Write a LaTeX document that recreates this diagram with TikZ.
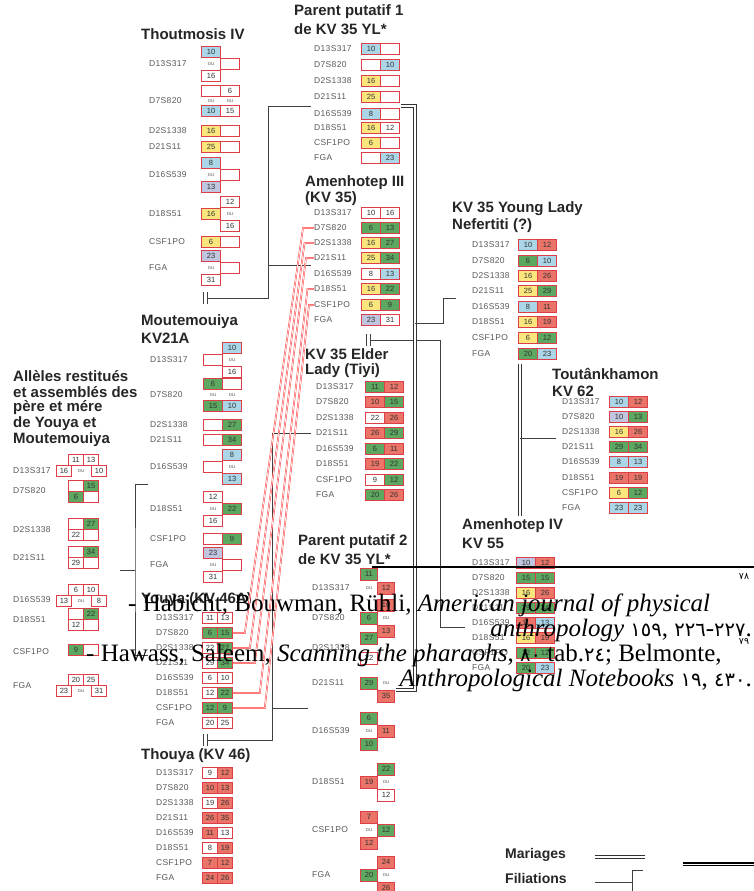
\documentclass[tikz,border=0pt]{standalone}
\usepackage{fontspec}
\setmainfont{Liberation Serif}
\newfontfamily\sansf{Liberation Sans}
\newfontfamily\lblf{Liberation Sans}[LetterSpace=4.0]
\newfontfamily\arnum{DejaVu Sans}[Scale=0.78]
\usetikzlibrary{calc}
\definecolor{cellred}{RGB}{222,62,72}
\definecolor{cgreen}{RGB}{92,168,96}
\definecolor{cred}{RGB}{234,116,104}
\definecolor{cyel}{RGB}{250,230,125}
\definecolor{cblue}{RGB}{170,214,232}
\definecolor{clav}{RGB}{192,198,224}

% one locus: label + two alleles
\newcommand{\locus}[7]{%
  \node[lbl] (#1) at (\lx,#2) {#3};
  \node[cell,fill=#4] (#1a) at (\ca,#2) {#5};
  \node[cell,fill=#6] (#1b) at (\cb,#2) {#7};}
% left allele uncertain (top / ou / bottom)
\newcommand{\altL}[9]{%
  \node[lbl] (#1) at (\lx,#2) {#3};
  \node[cell,fill=#4] (#1a) at (\ca,#2-\dy) {#5};
  \node[ou] (#1o) at (\ca,#2) {ou};
  \node[cell,fill=#6] (#1c) at (\ca,#2+\dy) {#7};
  \node[cell,fill=#8] (#1b) at (\cb,#2) {#9};}
% right allele uncertain
\newcommand{\altR}[9]{%
  \node[lbl] (#1) at (\lx,#2) {#3};
  \node[cell,fill=#4] (#1b) at (\cb,#2-\dy) {#5};
  \node[ou] (#1o) at (\cb,#2) {ou};
  \node[cell,fill=#6] (#1c) at (\cb,#2+\dy) {#7};
  \node[cell,fill=#8] (#1a) at (\ca,#2) {#9};}
% marriage sign ||
\newcommand{\marr}[3]{%
  \node[msign] (#1) at (#2,#3) {};
  \draw[link,line width=0.7pt] (#1.north west) -- (#1.south west) (#1.north east) -- (#1.south east);}
\newcommand{\ad}[1]{{\arnum #1}}

\begin{document}
\begin{tikzpicture}[x=1pt,y=-1pt,
  lbl/.style={anchor=west, inner sep=0pt, font=\lblf\fontsize{8.5}{9}\selectfont, text=black!65},
  cell/.style={draw=cellred, line width=0.6pt, minimum width=\cw, minimum height=\ch,
    inner sep=0pt, font=\sansf\fontsize{7.5}{8}\selectfont, text=black!80},
  ou/.style={inner sep=0pt, font=\sansf\fontsize{5.5}{6}\selectfont, text=black!60},
  ttl/.style={anchor=west, inner sep=0pt, font=\sansf\bfseries\fontsize{15}{17}\selectfont, text=black!85},
  leg/.style={anchor=west, inner sep=0pt, font=\sansf\bfseries\fontsize{14}{16}\selectfont, text=black!85},
  link/.style={draw=black!75, line width=0.8pt},
  wed/.style={draw=black!80, line width=0.9pt, double=white, double distance=1.6pt},
  rl/.style={draw=red!80, line width=0.45pt, double=white, double distance=0.7pt},
  msign/.style={minimum width=3.5pt, minimum height=11pt, inner sep=0pt},
  note/.style={inner sep=0pt, font=\fontsize{25}{27}\selectfont}
]
\useasboundingbox (0,0) rectangle (754,891);
\fill[white] (0,0) rectangle (754,891);

% Thoutmosis IV
\def\lx{149}\def\ca{211}\def\cb{230}\def\cw{19pt}\def\ch{11pt}\def\dy{12}
\node[ttl] (t4t) at (141,34) {Thoutmosis IV};
\altL{t4d13}{64}{D13S317}{cblue}{10}{white}{16}{white}{}
\node[lbl] (t4d7) at (\lx,101) {D7S820};
\node[cell,fill=white] (t4d7a) at (\ca,91) {};
\node[cell,fill=white] (t4d7b) at (\cb,91) {6};
\node[ou] (t4d7o) at (\ca,101) {ou};
\node[ou] (t4d7p) at (\cb,101) {ou};
\node[cell,fill=cblue] (t4d7c) at (\ca,111) {10};
\node[cell,fill=white] (t4d7d) at (\cb,111) {15};
\locus{t4d2}{131}{D2S1338}{cyel}{16}{white}{}
\locus{t4d21}{147}{D21S11}{cyel}{25}{white}{}
\altL{t4d16}{175}{D16S539}{cblue}{8}{clav}{13}{white}{}
\altR{t4d18}{214}{D18S51}{white}{12}{white}{16}{cyel}{16}
\locus{t4csf}{242}{CSF1PO}{cyel}{6}{white}{}
\altL{t4fga}{268}{FGA}{clav}{23}{white}{31}{white}{}
\marr{t4m}{205}{298}

% Moutemouiya
\def\lx{150}\def\ca{213}\def\cb{232}
\node[ttl] (mtt) at (141,322) {Moutemouiya};
\node[ttl] (mtt2) at (141,338) {KV21A};
\altR{mtd13}{360}{D13S317}{cblue}{10}{white}{16}{white}{}
\node[lbl] (mtd7) at (\lx,395) {D7S820};
\node[cell,fill=cgreen] (mtd7a) at (\ca,384) {6};
\node[cell,fill=white] (mtd7b) at (\cb,384) {};
\node[ou] (mtd7o) at (\ca,395) {ou};
\node[ou] (mtd7p) at (\cb,395) {ou};
\node[cell,fill=cgreen] (mtd7c) at (\ca,406) {15};
\node[cell,fill=cblue] (mtd7d) at (\cb,406) {10};
\locus{mtd2}{425}{D2S1338}{white}{}{cgreen}{27}
\locus{mtd21}{440}{D21S11}{white}{}{cgreen}{34}
\altR{mtd16}{467}{D16S539}{cblue}{8}{cblue}{13}{white}{}
\altL{mtd18}{509}{D18S51}{white}{12}{white}{16}{cgreen}{22}
\locus{mtcsf}{539}{CSF1PO}{white}{}{cgreen}{9}
\altL{mtfga}{565}{FGA}{clav}{23}{white}{31}{white}{}

% Youya
\def\lx{156}\def\ca{210}\def\cb{225}\def\cw{15pt}
\node[ttl] (yyt) at (141,600) {Youya (KV 46A)};
\locus{yyd13}{618}{D13S317}{white}{11}{white}{13}
\locus{yyd7}{633}{D7S820}{cgreen}{6}{cgreen}{15}
\locus{yyd2}{648}{D2S1338}{white}{22}{cgreen}{27}
\locus{yyd21}{663}{D21S11}{white}{29}{cgreen}{34}
\locus{yyd16}{678}{D16S539}{white}{6}{white}{10}
\locus{yyd18}{693}{D18S51}{white}{12}{cgreen}{22}
\locus{yycsf}{708}{CSF1PO}{cgreen}{12}{cgreen}{9}
\locus{yyfga}{723}{FGA}{white}{20}{white}{25}
\marr{yym}{205}{740}

% Thouya
\node[ttl] (tht) at (141,756) {Thouya (KV 46)};
\locus{thd13}{773}{D13S317}{white}{9}{cred}{12}
\locus{thd7}{788}{D7S820}{cred}{10}{cred}{13}
\locus{thd2}{803}{D2S1338}{white}{19}{cred}{26}
\locus{thd21}{818}{D21S11}{cred}{26}{cred}{35}
\locus{thd16}{833}{D16S539}{cred}{11}{white}{13}
\locus{thd18}{848}{D18S51}{white}{8}{cred}{19}
\locus{thcsf}{863}{CSF1PO}{cred}{7}{cred}{12}
\locus{thfga}{878}{FGA}{cred}{24}{cred}{26}

% Parent putatif 1
\def\lx{314}\def\ca{371}\def\cb{390}\def\cw{19pt}
\node[ttl] (pp1t) at (294,12) {Parent putatif 1};
\node[ttl] (pp1t2) at (294,29) {de KV 35 YL*};
\locus{pp1d13}{49}{D13S317}{cblue}{10}{white}{}
\locus{pp1d7}{65}{D7S820}{white}{}{cblue}{10}
\locus{pp1d2}{81}{D2S1338}{cyel}{16}{white}{}
\locus{pp1d21}{97}{D21S11}{cyel}{25}{white}{}
\locus{pp1d16}{114}{D16S539}{cblue}{8}{white}{}
\locus{pp1d18}{128}{D18S51}{cyel}{16}{white}{12}
\locus{pp1csf}{143}{CSF1PO}{cyel}{6}{white}{}
\locus{pp1fga}{158}{FGA}{white}{}{cblue}{23}

% Amenhotep III
\node[ttl] (a3t) at (305,183) {Amenhotep III};
\node[ttl] (a3t2) at (305,199) {(KV 35)};
\locus{a3d13}{213}{D13S317}{white}{10}{white}{16}
\locus{a3d7}{228}{D7S820}{cgreen}{6}{cgreen}{13}
\locus{a3d2}{243}{D2S1338}{cyel}{16}{cgreen}{27}
\locus{a3d21}{258}{D21S11}{cyel}{25}{cgreen}{34}
\locus{a3d16}{274}{D16S539}{white}{8}{cblue}{13}
\locus{a3d18}{289}{D18S51}{cyel}{16}{cgreen}{22}
\locus{a3csf}{305}{CSF1PO}{cyel}{6}{cgreen}{9}
\locus{a3fga}{320}{FGA}{clav}{23}{white}{31}
\marr{a3m}{368}{340}

% KV 35 Elder Lady
\def\lx{316}\def\ca{375}\def\cb{394}
\node[ttl] (elt) at (305,354) {KV 35 Elder};
\node[ttl] (elt2) at (305,371) {Lady (Tiyi)};
\locus{eld13}{387}{D13S317}{cgreen}{11}{cred}{12}
\locus{eld7}{402}{D7S820}{cred}{10}{cgreen}{15}
\locus{eld2}{418}{D2S1338}{white}{22}{cred}{26}
\locus{eld21}{433}{D21S11}{cred}{26}{cgreen}{29}
\locus{eld16}{449}{D16S539}{cgreen}{6}{cred}{11}
\locus{eld18}{464}{D18S51}{cred}{19}{cgreen}{22}
\locus{elcsf}{480}{CSF1PO}{white}{9}{cgreen}{12}
\locus{elfga}{495}{FGA}{cgreen}{20}{cred}{26}

% Parent putatif 2
\def\lx{312}\def\ca{369}\def\cb{386}\def\cw{17pt}\def\ch{12pt}\def\dy{13}
\node[ttl] (pp2t) at (298,542) {Parent putatif 2};
\node[ttl] (pp2t2) at (298,559) {de KV 35 YL*};
\node[lbl] (pp2d13) at (\lx,588) {D13S317};
\node[cell,fill=cgreen] (pp2d13a) at (\ca,574) {11};
\node[ou] (pp2d13o) at (\ca,588) {ou};
\node[cell,fill=cred] (pp2d13b) at (\cb,588) {12};
\altR{pp2d7}{618}{D7S820}{cred}{10}{cred}{13}{cgreen}{6}
\node[lbl] (pp2d2) at (\lx,648) {D2S1338};
\node[cell,fill=cgreen] (pp2d2a) at (\ca,638) {27};
\node[cell,fill=white] (pp2d2c) at (\ca,658) {22};
\node[lbl] (pp2d21) at (\lx,683) {D21S11};
\node[cell,fill=cgreen] (pp2d21a) at (\ca,683) {29};
\node[ou] (pp2d21o) at (\cb,683) {ou};
\node[cell,fill=cred] (pp2d21c) at (\cb,696) {35};
\altL{pp2d16}{731}{D16S539}{cgreen}{6}{cgreen}{10}{cred}{11}
\altR{pp2d18}{782}{D18S51}{cgreen}{22}{white}{12}{cred}{19}
\altL{pp2csf}{830}{CSF1PO}{cred}{7}{cred}{12}{cgreen}{12}
\altR{pp2fga}{875}{FGA}{cred}{24}{cred}{26}{cgreen}{20}

% KV 35 Young Lady
\def\lx{472}\def\ca{528}\def\cb{547}\def\cw{19pt}\def\ch{11pt}
\node[ttl] (ylt) at (452,209) {KV 35 Young Lady};
\node[ttl] (ylt2) at (452,226) {Nefertiti (?)};
\locus{yld13}{245}{D13S317}{cblue}{10}{cred}{12}
\locus{yld7}{261}{D7S820}{cgreen}{6}{cblue}{10}
\locus{yld2}{276}{D2S1338}{cyel}{16}{cred}{26}
\locus{yld21}{291}{D21S11}{cyel}{25}{cgreen}{29}
\locus{yld16}{307}{D16S539}{cblue}{8}{cred}{11}
\locus{yld18}{322}{D18S51}{cyel}{16}{cred}{19}
\locus{ylcsf}{338}{CSF1PO}{cyel}{6}{cgreen}{12}
\locus{ylfga}{354}{FGA}{cgreen}{20}{cblue}{23}

% Toutankhamon
\def\lx{562}\def\ca{619}\def\cb{638}
\node[ttl] (tkt) at (552,374) {Toutânkhamon};
\node[ttl] (tkt2) at (552,391) {KV 62};
\locus{tkd13}{402}{D13S317}{cblue}{10}{cred}{12}
\locus{tkd7}{417}{D7S820}{clav}{10}{cgreen}{13}
\locus{tkd2}{432}{D2S1338}{cyel}{16}{cred}{26}
\locus{tkd21}{447}{D21S11}{cgreen}{29}{cgreen}{34}
\locus{tkd16}{462}{D16S539}{cblue}{8}{cblue}{13}
\locus{tkd18}{478}{D18S51}{cred}{19}{cred}{19}
\locus{tkcsf}{493}{CSF1PO}{cyel}{6}{cgreen}{12}
\locus{tkfga}{508}{FGA}{cblue}{23}{cblue}{23}

% Amenhotep IV
\def\lx{472}\def\ca{526}\def\cb{545}
\node[ttl] (a4t) at (462,526) {Amenhotep IV};
\node[ttl] (a4t2) at (462,543) {KV 55};
\locus{a4d13}{563}{D13S317}{clav}{10}{cred}{12}
\locus{a4d7}{578}{D7S820}{cgreen}{15}{cgreen}{15}
\locus{a4d2}{593}{D2S1338}{cyel}{16}{cred}{26}
\locus{a4d21}{608}{D21S11}{cgreen}{29}{cgreen}{34}
\locus{a4d16}{623}{D16S539}{cred}{11}{cblue}{13}
\locus{a4d18}{638}{D18S51}{cyel}{16}{cred}{19}
\locus{a4csf}{653}{CSF1PO}{cgreen}{12}{cgreen}{12}
\locus{a4fga}{668}{FGA}{cgreen}{20}{cblue}{23}

% Alleles restitues
\def\cw{15pt}\def\ch{11pt}
\node[ttl] (alt1) at (13,376) {Allèles restitués};
\node[ttl] (alt2) at (13,392) {et assemblés des};
\node[ttl] (alt3) at (13,408) {père et mére};
\node[ttl] (alt4) at (13,424) {de Youya et};
\node[ttl] (alt5) at (13,440) {Moutemouiya};
\node[lbl] (ald13) at (13,471) {D13S317};
\node[cell,fill=white] (ald13a) at (76,460) {11};
\node[cell,fill=white] (ald13b) at (91,460) {13};
\node[cell,fill=white] (ald13c) at (64,471) {16};
\node[ou] (ald13o) at (81,471) {ou};
\node[cell,fill=white] (ald13d) at (99,471) {10};
\node[lbl] (ald7) at (13,491) {D7S820};
\node[cell,fill=white] (ald7a) at (76,486) {};
\node[cell,fill=cgreen] (ald7b) at (91,486) {15};
\node[cell,fill=cgreen] (ald7c) at (76,497) {6};
\node[cell,fill=white] (ald7d) at (91,497) {};
\node[lbl] (ald2) at (13,530) {D2S1338};
\node[cell,fill=white] (ald2a) at (76,524) {};
\node[cell,fill=cgreen] (ald2b) at (91,524) {27};
\node[cell,fill=white] (ald2c) at (76,535) {22};
\node[cell,fill=white] (ald2d) at (91,535) {};
\node[lbl] (ald21) at (13,558) {D21S11};
\node[cell,fill=white] (ald21a) at (76,552) {};
\node[cell,fill=cgreen] (ald21b) at (91,552) {34};
\node[cell,fill=white] (ald21c) at (76,563) {29};
\node[cell,fill=white] (ald21d) at (91,563) {};
\node[lbl] (ald16) at (13,600) {D16S539};
\node[cell,fill=white] (ald16a) at (76,590) {6};
\node[cell,fill=white] (ald16b) at (91,590) {10};
\node[cell,fill=white] (ald16c) at (64,601) {13};
\node[ou] (ald16o) at (81,601) {ou};
\node[cell,fill=white] (ald16d) at (99,601) {8};
\node[lbl] (ald18) at (13,620) {D18S51};
\node[cell,fill=white] (ald18a) at (76,614) {};
\node[cell,fill=cgreen] (ald18b) at (91,614) {22};
\node[cell,fill=white] (ald18c) at (76,625) {12};
\node[cell,fill=white] (ald18d) at (91,625) {};
\node[lbl] (alcsf) at (13,652) {CSF1PO};
\node[cell,fill=cgreen] (alcsfa) at (76,650) {9};
\node[cell,fill=white] (alcsfb) at (91,650) {};
\node[lbl] (alfga) at (13,686) {FGA};
\node[cell,fill=white] (alfgaa) at (76,680) {20};
\node[cell,fill=white] (alfgab) at (91,680) {25};
\node[cell,fill=white] (alfgac) at (64,691) {23};
\node[ou] (alfgao) at (81,691) {ou};
\node[cell,fill=white] (alfgad) at (99,691) {31};

% filiations
\coordinate (t4j) at (268,106);
\coordinate (pp1in) at (311,106);
\coordinate (a3in) at (311,265);
\draw[link] (t4m.east) -| (t4j) -- (pp1in);
\draw[link] (t4j |- a3in) -- (a3in);
\coordinate (yyj) at (272,433);
\coordinate (elin) at (311,433);
\coordinate (pp2in) at (308,708);
\draw[link] (yym.east) -| (yyj) -- (elin);
\draw[link] (yyj |- pp2in) -- (pp2in);
\coordinate (alj) at (135,570);
\coordinate (alb1) at (148,484);
\coordinate (alb2) at (148,655);
\coordinate (alin) at (120,570);
\draw[link] (alb1) -| (alj) |- (alb2);
\draw[link] (alj) -- (alin);
\coordinate (a4j) at (440,627);
\coordinate (a4in) at (465,627);
\draw[link] (a3m.east) -| (a4j) -- (a4in);

% mariages
\coordinate (w1) at (401,106);
\coordinate (wx) at (415,400);
\coordinate (w2) at (396,690);
\draw[wed] (w1) -| (wx) |- (w2);
\coordinate (ylj) at (443,323);
\coordinate (ylin) at (456,298);
\draw[link] (wx |- ylj) -- (ylj) |- (ylin);
\coordinate (ylw) at (520,364);
\coordinate (a4w) at (520,516);
\draw[wed] (ylw) -- (a4w);
\coordinate (tkin) at (556,438);
\draw[link] (ylw |- tkin) -- (tkin);

% shared alleles Youya -> Amenhotep III
\foreach \loc/\k in {d7/0,d2/1,d21/2,d18/3,csf/4}
  \draw[rl] (yy\loc b.east) -- ++(12+5*\k,0) -- ($(a3\loc.west)+(-11+1.5*\k,0)$) -- (a3\loc.west);

% legend
\node[leg] (lgm) at (505,855) {Mariages};
\node[leg] (lgf) at (505,878) {Filiations};
\coordinate (lm1) at (595,857);
\coordinate (lm2) at (645,857);
\draw[wed] (lm1) -- (lm2);
\coordinate (lf1) at (595,882);
\coordinate (lf2) at (632,891);
\coordinate (lf3) at (643,870);
\draw[link] (lf1) -- (lf1 -| lf2);
\draw[link] (lf2) |- (lf3);

% footnotes laid over the figure
\coordinate (fr1) at (372,567);
\coordinate (fr2) at (754,567);
\draw[black, line width=1.3pt] (fr1) -- (fr2);
\coordinate (fr3) at (683,864);
\coordinate (fr4) at (754,864);
\draw[black, line width=1.6pt, double=white, double distance=0.8pt] (fr3) -- (fr4);
\node[inner sep=0pt, font=\arnum\fontsize{12}{12}\selectfont] (fm1) at (744,577) {٧٨};
\node[inner sep=0pt, font=\arnum\fontsize{12}{12}\selectfont] (fm2) at (744,641) {٧٩};
\node[note, anchor=base west] (fn1) at (128,611) {- Habicht, Bouwman, Rühli, \textit{American journal of physical}};
\node[note, anchor=base east] (fn2) at (752,636) {\textit{anthropology} \ad{١٥٩}, \ad{٢٢٦}-\ad{٢٢٧}.};
\node[note, anchor=base west] (fn3) at (86,661) {- Hawass, Saleem, \textit{Scanning the pharaohs}, \ad{٨٠} tab.\ad{٢٤}; Belmonte,};
\node[note, anchor=base east] (fn4) at (752,686) {\textit{Anthropological Notebooks} \ad{١٩}, \ad{٤٣٠}.};
\end{tikzpicture}
\end{document}
